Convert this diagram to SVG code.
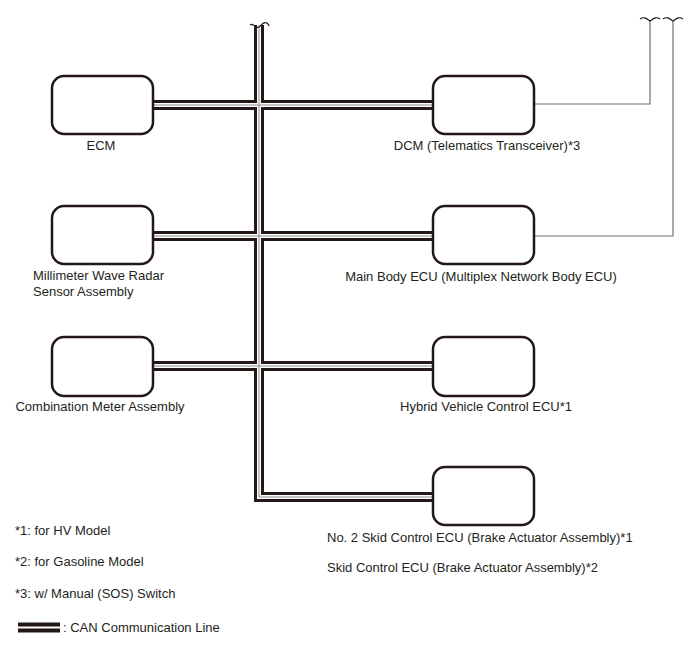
<svg xmlns="http://www.w3.org/2000/svg" width="688" height="658" viewBox="0 0 688 658">
<style>
  .box{fill:#fff;stroke:#231815;stroke-width:2.5}
  .lbl{font-family:"Liberation Sans",Arial,sans-serif;font-size:13px;fill:#231f20}
  .c1{fill:none;stroke:#231815;stroke-width:10;stroke-linejoin:miter;stroke-linecap:butt}
  .c2{fill:none;stroke:#fff;stroke-width:4;stroke-linejoin:miter;stroke-linecap:butt}
  .c3{fill:none;stroke:#8a8a8a;stroke-width:1;stroke-linejoin:miter;stroke-linecap:butt}
  .thin{fill:none;stroke:#707070;stroke-width:1.2}
  .tl{fill:none;stroke:#231815;stroke-width:1.2}
</style>
<defs>
  <path id="bus" d="M259,25 V497 H433 M153,105 H433 M153,236 H433 M153,366 H433"/>
</defs>
<g id="connectors">
  <use href="#bus" class="c1"/>
  <use href="#bus" class="c2"/>
  <use href="#bus" class="c3"/>
  <path class="tl" d="M250,25 C253,22 255,29 259,27 C262,25 263,21 267,23 C268,24 269,25 269,26"/>
  <path class="thin" d="M535,104 H650 V21 M535,236 H673 V21"/>
  <path class="tl" d="M640,19 C644,16 647,19 650,21 C653,19 656,16 660,19"/>
  <path class="tl" d="M663,19 C667,16 670,19 673,21 C676,19 679,16 683,19"/>
</g>
<g id="ecm"><rect class="box" x="52" y="76" width="101" height="58" rx="12"/><text class="lbl" x="101" y="150" text-anchor="middle">ECM</text></g>
<g id="dcm"><rect class="box" x="433" y="76" width="101" height="58" rx="12"/><text class="lbl" x="487" y="150" text-anchor="middle">DCM (Telematics Transceiver)*3</text></g>
<g id="radar"><rect class="box" x="52" y="206" width="101" height="58" rx="12"/><text class="lbl" x="33" y="280">Millimeter Wave Radar</text><text class="lbl" x="33" y="296">Sensor Assembly</text></g>
<g id="mainbody"><rect class="box" x="433" y="206" width="101" height="58" rx="12"/><text class="lbl" x="481" y="281" text-anchor="middle">Main Body ECU (Multiplex Network Body ECU)</text></g>
<g id="combo"><rect class="box" x="52" y="337" width="101" height="59" rx="12"/><text class="lbl" x="100" y="411" text-anchor="middle">Combination Meter Assembly</text></g>
<g id="hybrid"><rect class="box" x="433" y="337" width="101" height="59" rx="12"/><text class="lbl" x="486" y="411" text-anchor="middle">Hybrid Vehicle Control ECU*1</text></g>
<g id="skid"><rect class="box" x="433" y="467" width="101" height="58" rx="12"/><text class="lbl" x="327" y="542">No. 2 Skid Control ECU (Brake Actuator Assembly)*1</text><text class="lbl" x="327" y="572">Skid Control ECU (Brake Actuator Assembly)*2</text></g>
<g id="legend">
  <text class="lbl" x="15" y="535">*1: for HV Model</text>
  <text class="lbl" x="15" y="566">*2: for Gasoline Model</text>
  <text class="lbl" x="15" y="598">*3: w/ Manual (SOS) Switch</text>
  <path class="c1" d="M18,627.5 H60"/>
  <path class="c2" d="M18,627.5 H60" style="stroke-width:2"/>
  <text class="lbl" x="63" y="632">: CAN Communication Line</text>
</g>
</svg>
